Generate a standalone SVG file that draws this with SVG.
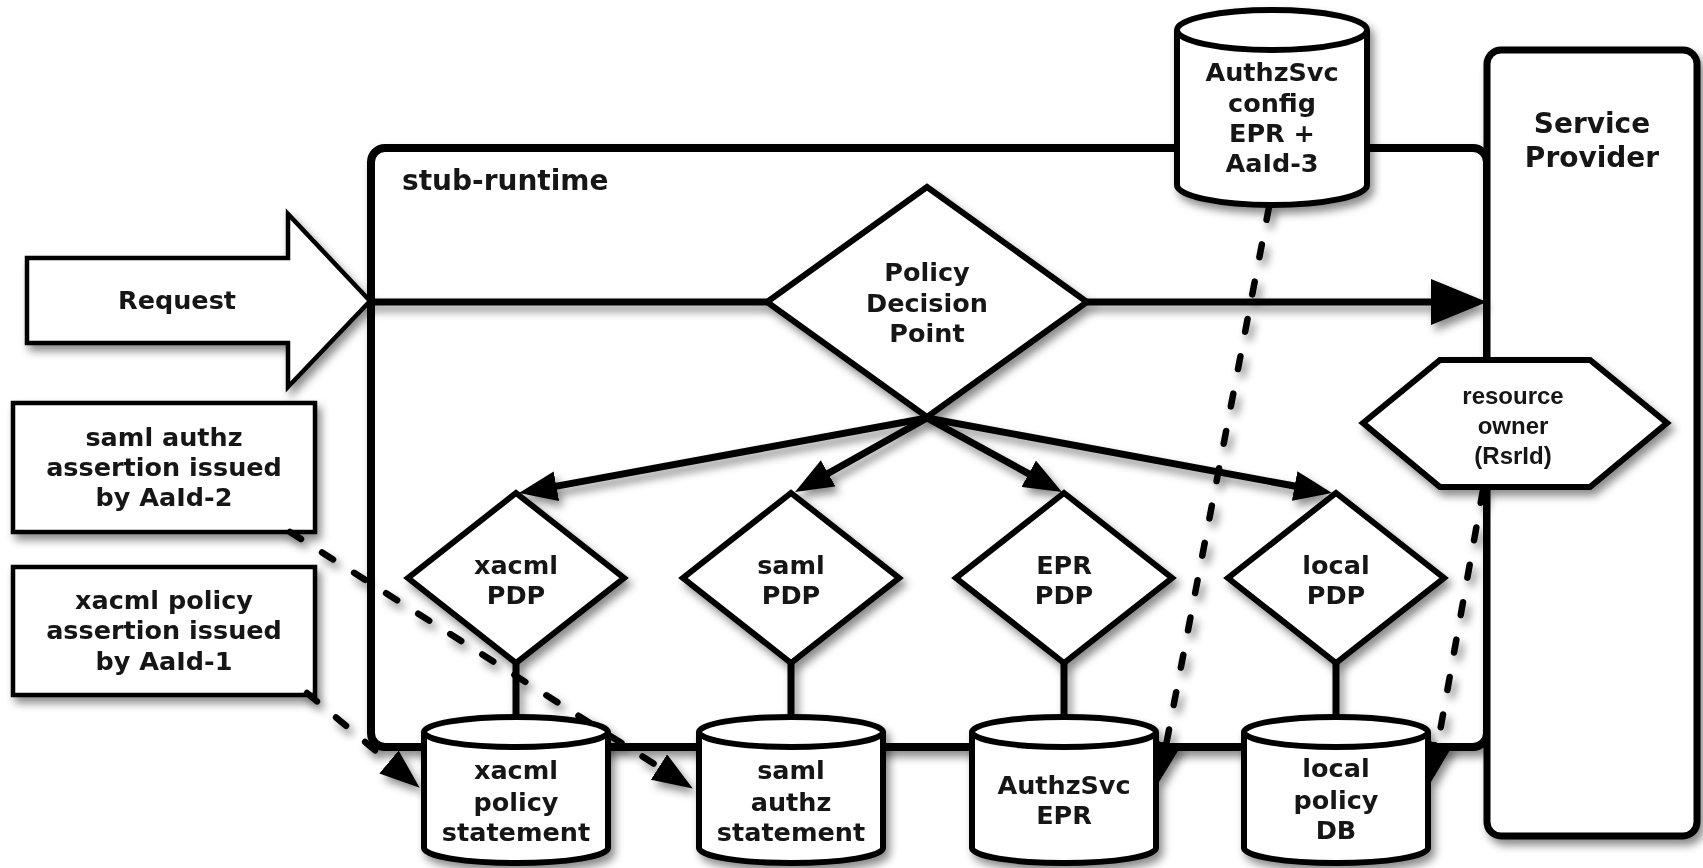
<svg xmlns="http://www.w3.org/2000/svg" width="1703" height="868" viewBox="0 0 1703 868">
<style>
.t{font-family:"DejaVu Sans",Verdana,sans-serif;font-weight:bold;font-size:25.5px;text-anchor:middle;fill:#151515}
.big{font-size:28px}
.ro{font-family:"Liberation Sans",Arial,sans-serif;font-weight:bold;font-size:24px;text-anchor:middle;fill:#151515}
.shape{fill:#fff;stroke:#000;stroke-width:6;stroke-linejoin:miter}
.thin{fill:#fff;stroke:#000;stroke-width:4.5}
.cyl{fill:#fff;stroke:#000;stroke-width:6}
.line{fill:none;stroke:#000;stroke-width:7}
.dash{fill:none;stroke:#000;stroke-width:6.5;stroke-dasharray:13 25;stroke-linecap:round}
</style>
<defs>
<filter id="sh" x="-10%" y="-10%" width="130%" height="130%">
<feDropShadow dx="4" dy="6" stdDeviation="4" flood-color="#000" flood-opacity="0.45"/>
</filter>
<marker id="mbig" markerUnits="userSpaceOnUse" markerWidth="56" markerHeight="46" refX="14" refY="23" orient="auto">
<path d="M0,0 L56,23 L0,46 Z" fill="#000"/>
</marker>
<marker id="msm" markerUnits="userSpaceOnUse" markerWidth="38" markerHeight="30" refX="8" refY="15" orient="auto">
<path d="M0,0 L38,15 L0,30 Z" fill="#000"/>
</marker>
<marker id="mdash" markerUnits="userSpaceOnUse" markerWidth="40" markerHeight="30" refX="0" refY="15" orient="auto">
<path d="M0,0 L40,15 L0,30 Z" fill="#000"/>
</marker>
</defs>
<rect width="1703" height="868" fill="#fff"/>

<g id="stub-runtime" filter="url(#sh)">
<rect x="371" y="148" width="1116" height="599" rx="14" fill="#fff" stroke="#000" stroke-width="8"/>
<text class="t big" x="402" y="190" style="text-anchor:start">stub-runtime</text>
</g>

<g id="service-provider" filter="url(#sh)">
<rect x="1487" y="50" width="210" height="786" rx="14" fill="#fff" stroke="#000" stroke-width="7"/>
<text class="t big" x="1592" y="133">Service</text>
<text class="t big" x="1592" y="167">Provider</text>
</g>

<g id="authzsvc-config" filter="url(#sh)">
<path class="cyl" d="M1177,30 V185 A95,20 0 0 0 1367,185 V30"/>
<ellipse class="cyl" cx="1272" cy="30" rx="95" ry="20"/>
<text class="t" x="1272" y="81">AuthzSvc</text>
<text class="t" x="1272" y="112">config</text>
<text class="t" x="1272" y="142">EPR +</text>
<text class="t" x="1272" y="172">AaId-3</text>
</g>

<g id="request" filter="url(#sh)">
<polygon class="thin" points="27,258 288,258 288,214 370,301 288,387 288,343 27,343"/>
<text class="t" x="177" y="309">Request</text>
</g>

<g id="saml-assertion" filter="url(#sh)">
<rect class="thin" x="13" y="403" width="302" height="129"/>
<text class="t" x="164" y="446">saml authz</text>
<text class="t" x="164" y="476">assertion issued</text>
<text class="t" x="164" y="506">by AaId-2</text>
</g>

<g id="xacml-assertion" filter="url(#sh)">
<rect class="thin" x="13" y="567" width="302" height="128"/>
<text class="t" x="164" y="609">xacml policy</text>
<text class="t" x="164" y="639">assertion issued</text>
<text class="t" x="164" y="670">by AaId-1</text>
</g>

<g id="connectors" filter="url(#sh)">
<path class="line" d="M371,302 H767" stroke-width="8"/>
<path class="line" d="M1087,302 H1445" stroke-width="8" marker-end="url(#mbig)"/>
<path class="line" d="M927,418 L548.5,487.6" marker-end="url(#msm)"/>
<path class="line" d="M927,418 L821.2,477.3" marker-end="url(#msm)"/>
<path class="line" d="M927,418 L1035.7,477.6" marker-end="url(#msm)"/>
<path class="line" d="M927,418 L1302.5,487.5" marker-end="url(#msm)"/>
<path class="line" d="M516,663 V718" stroke-width="6"/>
<path class="line" d="M791,663 V718" stroke-width="6"/>
<path class="line" d="M1064,663 V718" stroke-width="6"/>
<path class="line" d="M1336,663 V718" stroke-width="6"/>
<path class="dash" d="M290,532 L659,767" marker-end="url(#mdash)"/>
<path class="dash" d="M307,693 L389,762" marker-end="url(#mdash)"/>
<path class="dash" d="M1269,207 L1166.5,742.7" marker-end="url(#mdash)"/>
<path class="dash" d="M1483,490 L1438,742.6" marker-end="url(#mdash)"/>
</g>

<g id="pdp" filter="url(#sh)">
<polygon class="shape" points="927,187 1087,302 927,417 767,302"/>
<text class="t" x="927" y="281">Policy</text>
<text class="t" x="927" y="312">Decision</text>
<text class="t" x="927" y="342">Point</text>
</g>

<g id="xacml-pdp" filter="url(#sh)">
<polygon class="shape" points="516,493 624,578 516,663 408,578"/>
<text class="t" x="516" y="574">xacml</text>
<text class="t" x="516" y="604">PDP</text>
</g>
<g id="saml-pdp" filter="url(#sh)">
<polygon class="shape" points="791,493 899,578 791,663 683,578"/>
<text class="t" x="791" y="574">saml</text>
<text class="t" x="791" y="604">PDP</text>
</g>
<g id="epr-pdp" filter="url(#sh)">
<polygon class="shape" points="1064,493 1172,578 1064,663 956,578"/>
<text class="t" x="1064" y="574">EPR</text>
<text class="t" x="1064" y="604">PDP</text>
</g>
<g id="local-pdp" filter="url(#sh)">
<polygon class="shape" points="1336,493 1444,578 1336,663 1228,578"/>
<text class="t" x="1336" y="574">local</text>
<text class="t" x="1336" y="604">PDP</text>
</g>

<g id="xacml-statement" filter="url(#sh)">
<path class="cyl" d="M424,732 V848 A92,15 0 0 0 608,848 V732"/>
<ellipse class="cyl" cx="516" cy="732" rx="92" ry="15"/>
<text class="t" x="516" y="779">xacml</text>
<text class="t" x="516" y="811">policy</text>
<text class="t" x="516" y="841">statement</text>
</g>
<g id="saml-statement" filter="url(#sh)">
<path class="cyl" d="M699,732 V848 A92,15 0 0 0 883,848 V732"/>
<ellipse class="cyl" cx="791" cy="732" rx="92" ry="15"/>
<text class="t" x="791" y="779">saml</text>
<text class="t" x="791" y="811">authz</text>
<text class="t" x="791" y="841">statement</text>
</g>
<g id="authzsvc-epr" filter="url(#sh)">
<path class="cyl" d="M972,732 V848 A92,15 0 0 0 1156,848 V732"/>
<ellipse class="cyl" cx="1064" cy="732" rx="92" ry="15"/>
<text class="t" x="1064" y="794">AuthzSvc</text>
<text class="t" x="1064" y="824">EPR</text>
</g>
<g id="local-policy-db" filter="url(#sh)">
<path class="cyl" d="M1244,732 V848 A92,15 0 0 0 1428,848 V732"/>
<ellipse class="cyl" cx="1336" cy="732" rx="92" ry="15"/>
<text class="t" x="1336" y="777">local</text>
<text class="t" x="1336" y="809">policy</text>
<text class="t" x="1336" y="839">DB</text>
</g>

<g id="resource-owner" filter="url(#sh)">
<polygon class="shape" points="1363,423 1440,360 1590,360 1667,423 1590,487 1440,487"/>
<text class="ro" x="1513" y="404">resource</text>
<text class="ro" x="1513" y="434">owner</text>
<text class="ro" x="1513" y="464">(RsrId)</text>
</g>
</svg>
